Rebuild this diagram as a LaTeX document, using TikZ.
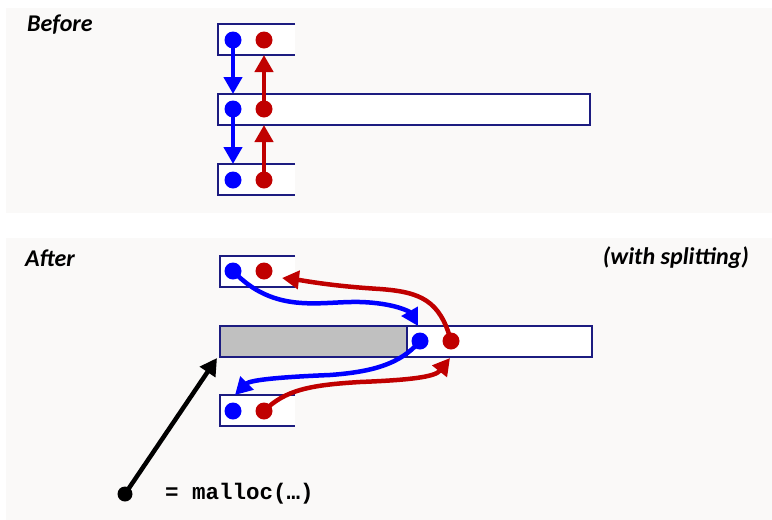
\documentclass[tikz,border=0pt]{standalone}
\usepackage{fontspec}
\setmainfont{Carlito}
\newfontfamily\codefont{Liberation Mono}
\usetikzlibrary{arrows.meta}
\definecolor{panel}{HTML}{FAF9F8}
\definecolor{navy}{HTML}{1C1C80}
\definecolor{pblue}{HTML}{0000FF}
\definecolor{pred}{HTML}{C00000}
\definecolor{used}{HTML}{C0C0C0}
\tikzset{
  blk/.style={fill=white, draw=none, inner sep=0pt, outer sep=0pt, minimum height=31pt},
  blkline/.style={draw=navy, line width=1.3pt},
  dot/.style={circle, fill=#1, inner sep=0pt, minimum size=17pt},
  ptr/.style={line width=4.5pt, -{Triangle[length=17pt,width=18pt]}},
  ttl/.style={font=\bfseries\itshape\fontsize{24}{26}\selectfont, inner sep=0pt}
}
\begin{document}
\begin{tikzpicture}[x=1pt,y=-1pt]
\useasboundingbox (0,0) rectangle (772,520);
\fill[white] (0,0) rectangle (772,520);
\fill[panel] (6,8) rectangle (772,213);
\fill[panel] (6,238) rectangle (772,520);

% ---------- Before ----------
\node[ttl, anchor=west] (tb) at (27,25) {Before};
\node[blk, minimum width=77pt] (bt) at (256.5,39.5) {};
\draw[blkline] (bt.north east) -- (bt.north west) -- (bt.south west) -- (bt.south east);
\node[blk, minimum width=372pt, draw=navy, line width=1.3pt] (bm) at (404,109.5) {};
\node[blk, minimum width=77pt] (bb) at (256.5,179.5) {};
\draw[blkline] (bb.north east) -- (bb.north west) -- (bb.south west) -- (bb.south east);

\node[dot=pblue] (btb) at (233,40) {};
\node[dot=pred]  (btr) at (264,40) {};
\node[dot=pblue] (bmb) at (233,109) {};
\node[dot=pred]  (bmr) at (264,109) {};
\node[dot=pblue] (bbb) at (233,180) {};
\node[dot=pred]  (bbr) at (264,180) {};

\draw[ptr, pblue] (btb.center) -- (btb.center |- bm.north);
\draw[ptr, pred]  (bmr.center) -- (bmr.center |- bt.south);
\draw[ptr, pblue] (bmb.center) -- (bmb.center |- bb.north);
\draw[ptr, pred]  (bbr.center) -- (bbr.center |- bm.south);

% ---------- After ----------
\node[ttl, anchor=west] (ta) at (25,258) {After};
\node[ttl, anchor=east] (ts) at (749,258) {(with splitting)};

\node[blk, minimum width=75pt] (at) at (257.5,271.5) {};
\draw[blkline] (at.north east) -- (at.north west) -- (at.south west) -- (at.south east);
\node[blk, minimum width=187pt, fill=used, draw=navy, line width=1.3pt] (ag) at (313.5,341.5) {};
\node[blk, minimum width=185pt, draw=navy, line width=1.3pt] (af) at (499.5,341.5) {};
\node[blk, minimum width=75pt] (ab) at (257.5,410.5) {};
\draw[blkline] (ab.north east) -- (ab.north west) -- (ab.south west) -- (ab.south east);

\node[dot=pblue] (atb) at (233,271) {};
\node[dot=pred]  (atr) at (264,271) {};
\node[dot=pblue] (afb) at (420,341) {};
\node[dot=pred]  (afr) at (451,341) {};
\node[dot=pblue] (abb) at (233,411) {};
\node[dot=pred]  (abr) at (264,411) {};

\coordinate (t1) at (418,326);
\coordinate (t2) at (282,278);
\coordinate (t3) at (235,395);
\coordinate (t4) at (450,358);

\draw[ptr, pblue] (atb.center) .. controls (275,315) and (320,301) .. (360,302)
   .. controls (395,303) and (410,312) .. (t1);
\draw[ptr, pred] (afr.center) .. controls (440,300) and (420,292) .. (380,289)
   .. controls (330,286) and (300,280) .. (t2);
\draw[ptr, pblue] (afb.center) .. controls (400,365) and (370,372) .. (330,375)
   .. controls (280,377) and (250,380) .. (t3);
\draw[ptr, pred] (abr.center) .. controls (285,390) and (310,385) .. (360,382)
   .. controls (410,380) and (435,377) .. (t4);

% ---------- malloc ----------
\node[circle, fill=black, inner sep=0pt, minimum size=15pt] (md) at (125,494) {};
\coordinate (mt) at (217,358);
\draw[ptr, black] (md.center) -- (mt);
\node[anchor=west, inner sep=0pt, font=\codefont\bfseries\fontsize{22.5}{24}\selectfont] (ml) at (165,494) {= malloc(…)};
\end{tikzpicture}
\end{document}
